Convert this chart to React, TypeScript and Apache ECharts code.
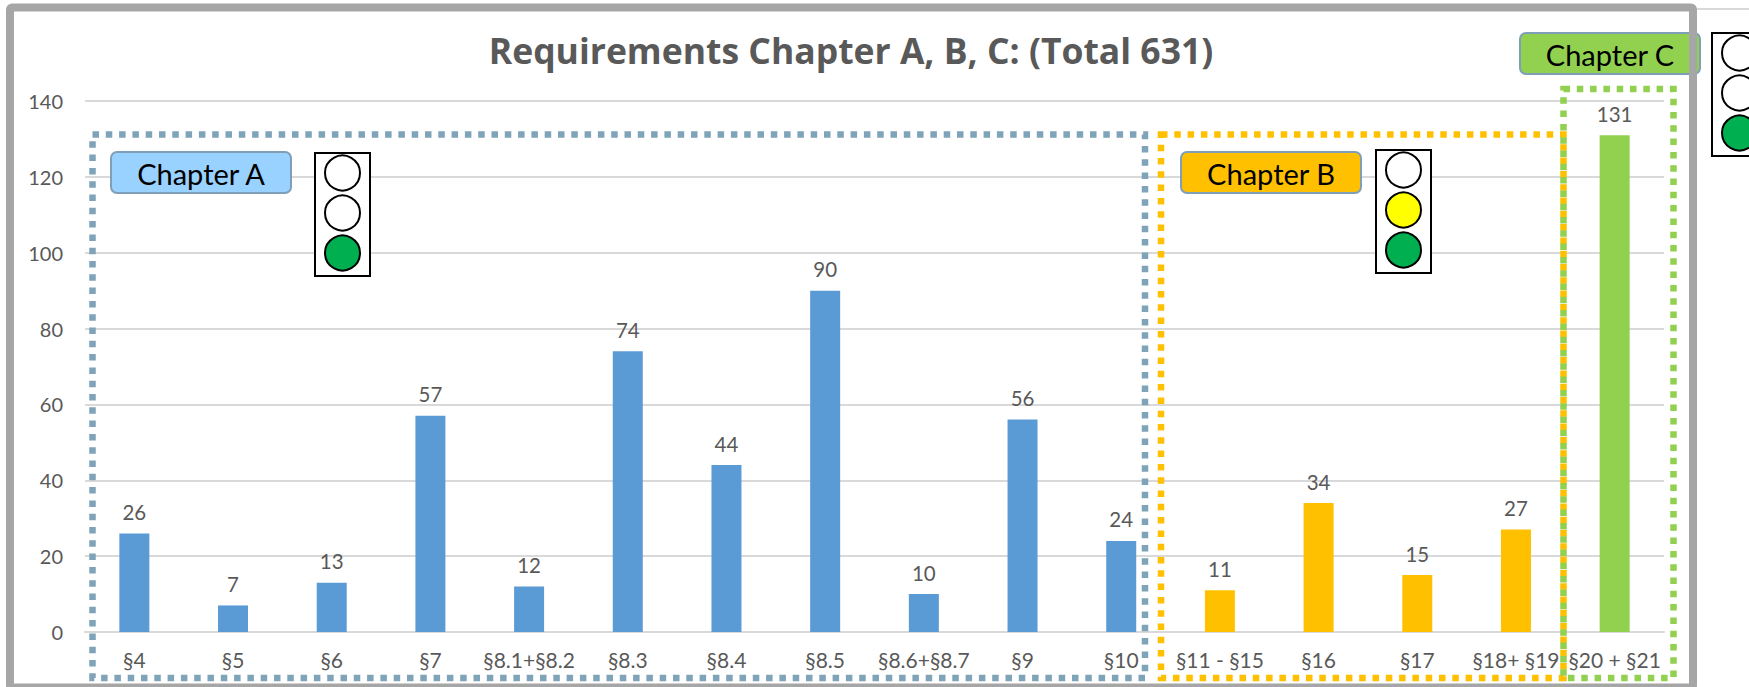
import React, { useEffect, useRef } from "react";
import * as echarts from "echarts";

const categories = ["§4", "§5", "§6", "§7", "§8.1+§8.2", "§8.3", "§8.4", "§8.5", "§8.6+§8.7", "§9", "§10", "§11 - §15", "§16", "§17", "§18+ §19", "§20 + §21"];
const chapterA = [26, 7, 13, 57, 12, 74, 44, 90, 10, 56, 24, null, null, null, null, null];
const chapterB = [null, null, null, null, null, null, null, null, null, null, null, 11, 34, 15, 27, null];
const chapterC = [null, null, null, null, null, null, null, null, null, null, null, null, null, null, null, 131];
const titleText = "Requirements Chapter A, B, C: (Total 631)";

const FONT = "Lato";
const GREY = "#595959";
const BLUE = "#5b9bd5";
const ORANGE = "#ffc000";
const GREEN = "#92d050";

function dottedBox(x1: number, y1: number, x2: number, y2: number, color: string, z: number) {
  return {
    type: "rect",
    z,
    shape: { x: x1, y: y1, width: x2 - x1, height: y2 - y1 },
    style: { fill: "none", stroke: color, lineWidth: 6.5, lineDash: [6.5, 6.8] },
  };
}

function chapterLabel(x: number, y: number, text: string, fill: string) {
  return {
    type: "group",
    z: 20,
    children: [
      {
        type: "rect",
        z: 20,
        shape: { x, y, width: 180, height: 41, r: 6 },
        style: { fill, stroke: "#7f9fb8", lineWidth: 2 },
      },
      {
        type: "text",
        z: 21,
        style: {
          x: x + 90,
          y: y + 21,
          text,
          fill: "#000000",
          font: `29px ${FONT}`,
          align: "center",
          verticalAlign: "middle",
        },
      },
    ],
  };
}

function trafficLight(x: number, y: number, lamps: string[]) {
  return {
    type: "group",
    z: 20,
    children: [
      {
        type: "rect",
        z: 20,
        shape: { x, y, width: 55, height: 123 },
        style: { fill: "#ffffff", stroke: "#000000", lineWidth: 2 },
      },
      ...lamps.map((fill, i) => ({
        type: "circle",
        z: 21,
        shape: { cx: x + 27.5, cy: y + 20 + i * 40, r: 17.5 },
        style: { fill, stroke: "#000000", lineWidth: 2 },
      })),
    ],
  };
}

function barSeries(data: (number | null)[], color: string) {
  return {
    type: "bar",
    stack: "all",
    barWidth: 30,
    data,
    itemStyle: { color },
    label: {
      show: true,
      position: "top",
      distance: 11,
      color: GREY,
      fontFamily: FONT,
      fontSize: 20.5,
    },
  };
}

export default function App() {
  const ref = useRef<HTMLDivElement>(null);
  useEffect(() => {
    document.body.style.margin = "0";
    const chart = echarts.init(ref.current!, undefined, { renderer: "svg" });
    chart.setOption({
      animation: false,
      backgroundColor: "#ffffff",
      title: {
        text: titleText,
        left: 846,
        top: 27,
        textAlign: "center",
        textStyle: { color: GREY, fontFamily: "Open Sans", fontWeight: "bold", fontSize: 35.5 },
      },
      grid: { left: 85, right: 85, top: 101, bottom: 55 },
      xAxis: {
        type: "category",
        data: categories,
        axisTick: { show: false },
        axisLine: { lineStyle: { color: "#d9d9d9", width: 2 } },
        axisLabel: { color: GREY, fontFamily: FONT, fontSize: 21, margin: 17, interval: 0 },
      },
      yAxis: {
        type: "value",
        min: 0,
        max: 140,
        interval: 20,
        axisLine: { show: false },
        axisTick: { show: false },
        axisLabel: { color: GREY, fontFamily: FONT, fontSize: 20, margin: 22 },
        splitLine: { lineStyle: { color: "#d9d9d9", width: 2 } },
      },
      series: [barSeries(chapterA, BLUE), barSeries(chapterB, ORANGE), barSeries(chapterC, GREEN)],
      graphic: [
        { type: "rect", z: 30, shape: { x: 10, y: 7.5, width: 1683, height: 680, r: 2 }, style: { fill: "none", stroke: "#a6a6a6", lineWidth: 8 } },
        { type: "line", z: 30, shape: { x1: 1697, y1: 9, x2: 1749, y2: 9 }, style: { stroke: "#d9d9d9", lineWidth: 2 } },
        dottedBox(92.5, 134.5, 1145, 678, "#7fa3b8", 10),
        dottedBox(1161, 134.5, 1563.5, 678, ORANGE, 11),
        dottedBox(1563.5, 89, 1673.5, 678, GREEN, 12),
        chapterLabel(111, 152, "Chapter A", "#99d1ff"),
        chapterLabel(1181, 152, "Chapter B", ORANGE),
        chapterLabel(1520, 33, "Chapter C", GREEN),
        trafficLight(315, 153, ["#ffffff", "#ffffff", "#00b050"]),
        trafficLight(1376, 150, ["#ffffff", "#ffff00", "#00b050"]),
        trafficLight(1712, 33, ["#ffffff", "#ffffff", "#00b050"]),
      ],
    });
    return () => chart.dispose();
  }, []);
  return <div ref={ref} style={{ position: "absolute", left: 0, top: 0, width: 1749, height: 687, overflow: "hidden" }} />;
}
